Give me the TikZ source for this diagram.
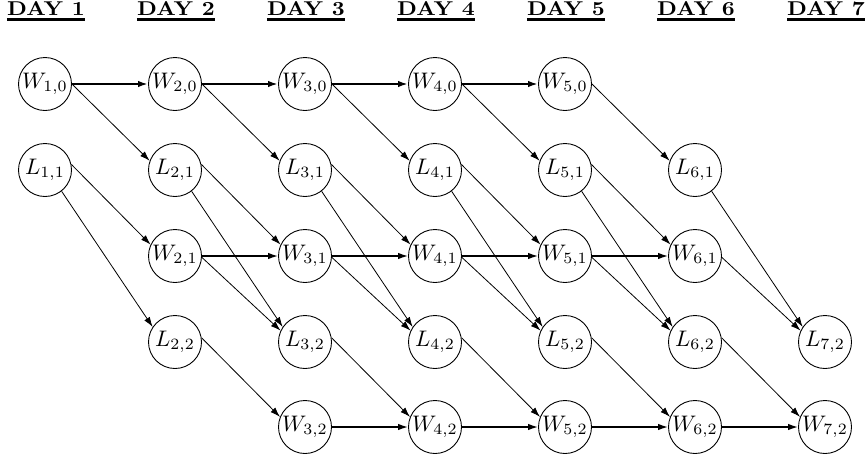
\documentclass[tikz,border=0pt]{standalone}
\usepackage{graphicx}
\usetikzlibrary{arrows.meta}
\newcommand{\stlabel}[2]{\scalebox{2.25}{$#1_{#2}$}}
\newcommand{\daylabel}[1]{\scalebox{2.25}[2.0]{\bfseries DAY #1}}
\begin{document}
\begin{tikzpicture}[x=1pt,y=1pt,
  st/.style={circle,draw,line width=0.9pt,minimum size=53pt,inner sep=0pt},
  hdr/.style={anchor=base,inner sep=0pt},
  tip/.style={-{Latex[length=10pt,width=6.5pt]}},
  thinarr/.style={tip,line width=0.8pt},
  hz/.style={tip,line width=1.4pt},
  hzb/.style={tip,line width=2pt}]
\useasboundingbox (0,0) rectangle (866,-459);
\foreach \i in {1,...,7}{
  \node[hdr] (d\i) at ({45+130*(\i-1)+1},-15) {\daylabel{\i}};
  \draw[line width=2.8pt] ([yshift=-4.5pt]d\i.base west) -- ([yshift=-4.5pt]d\i.base east);
}
% row 0
\foreach \i in {1,...,5}{
  \node[st] (w\i0) at ({45+130*(\i-1)},-84) {\stlabel{W}{\i,0}};}
% row 1
\foreach \i in {1,...,6}{
  \node[st] (l\i1) at ({45+130*(\i-1)},-170) {\stlabel{L}{\i,1}};}
% row 2
\foreach \i in {2,...,6}{
  \node[st] (w\i1) at ({45+130*(\i-1)},-256) {\stlabel{W}{\i,1}};}
% row 3
\foreach \i in {2,...,7}{
  \node[st] (l\i2) at ({45+130*(\i-1)},-342) {\stlabel{L}{\i,2}};}
% row 4
\foreach \i in {3,...,7}{
  \node[st] (w\i2) at ({45+130*(\i-1)},-427) {\stlabel{W}{\i,2}};}
% horizontal edges
\foreach \a/\b in {1/2,2/3,3/4,4/5}{
  \draw[hzb] (w\a0.east) -- (w\b0.west);}
\foreach \a/\b in {2/3,3/4,4/5,5/6}{
  \draw[hz] (w\a1.east) -- (w\b1.west);}
\foreach \a/\b in {3/4,4/5,5/6,6/7}{
  \draw[hz] (w\a2.east) -- (w\b2.west);}
% W row0 -> L row1
\foreach \a/\b in {1/2,2/3,3/4,4/5,5/6}{
  \draw[thinarr] (w\a0.0) -- (l\b1.160);}
% L row1 -> W row2
\foreach \a/\b in {1/2,2/3,3/4,4/5,5/6}{
  \draw[thinarr] (l\a1.12) -- (w\b1.155);}
% L row1 -> L row3
\foreach \a/\b in {1/2,2/3,3/4,4/5,5/6,6/7}{
  \draw[thinarr] (l\a1.-52) -- (l\b2.146);}
% W row2 -> L row3
\foreach \a/\b in {2/3,3/4,4/5,5/6,6/7}{
  \draw[thinarr] (w\a1.-3) -- (l\b2.155);}
% L row3 -> W row4
\foreach \a/\b in {2/3,3/4,4/5,5/6,6/7}{
  \draw[thinarr] (l\a2.9) -- (w\b2.158);}
\end{tikzpicture}
\end{document}
